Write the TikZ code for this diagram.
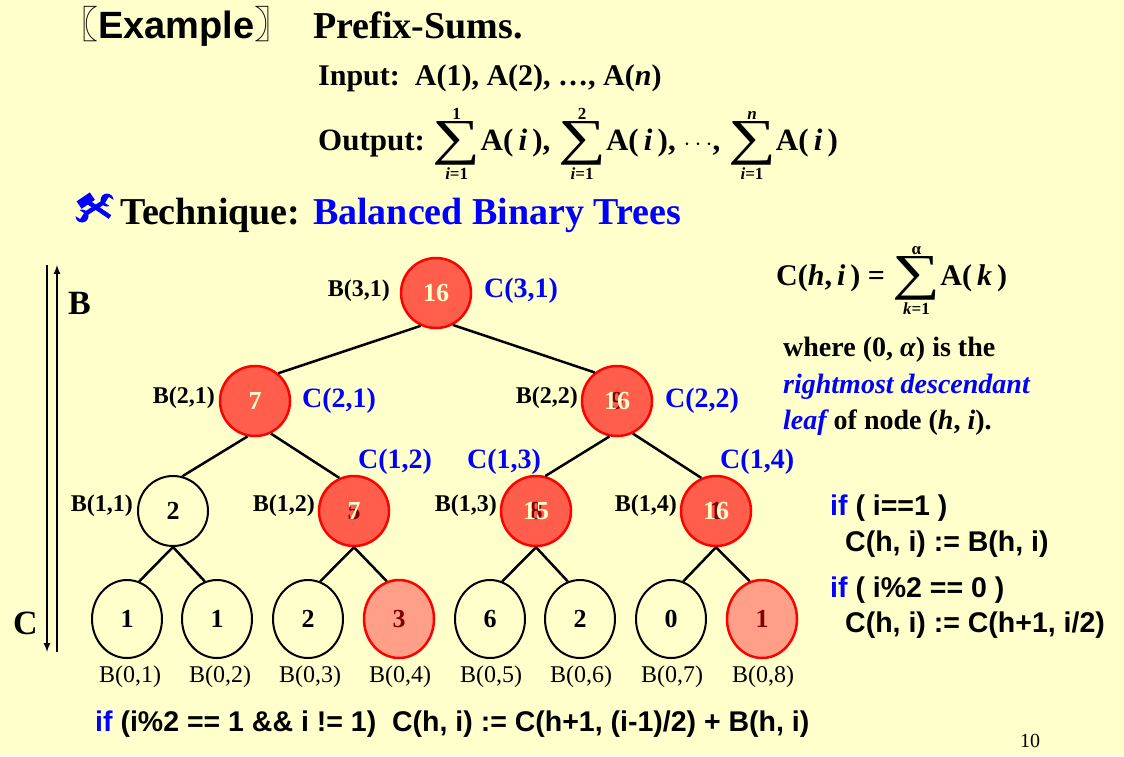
\documentclass[tikz,border=0pt]{standalone}
\usepackage{graphicx}
\usepackage{fontspec}
\setmainfont{Liberation Serif}
\setsansfont{Liberation Sans}
\newfontfamily\cjk{Noto Sans CJK SC}
\usetikzlibrary{shapes.geometric}
\definecolor{bg}{HTML}{FFFFCC}
\definecolor{nred}{HTML}{FF5E4D}
\definecolor{lred}{HTML}{FF9F88}
\definecolor{bred}{HTML}{FF0000}
\definecolor{dred}{HTML}{800000}
\definecolor{cream}{HTML}{FFFFCC}
\definecolor{tblue}{HTML}{0000FF}
\newcommand\fs[1]{\fontsize{#1}{#1}\selectfont}
\newcommand\ov[2]{\makebox[0pt][c]{\color{dred}#1}\makebox[0pt][c]{#2}}
\newcommand\bsum[2]{$\mathop{\vcenter{\hbox{\scalebox{1.4}[1.05]{\fs{48}\mdseries ∑}}}}\limits^{\hbox{\fs{17}\bfseries #1}}_{\hbox{\fs{17}\bfseries #2}}$}
\newcommand\Ai[1]{A(\,\textit{#1}\,)}
\tikzset{
  rnode/.style={circle, draw=bred, line width=2.5pt, fill=nred, minimum size=70pt, inner sep=0pt, font=\fs{26}\bfseries, text=cream},
  wnode/.style={circle, draw=black, line width=2pt, fill=bg, minimum size=70pt, inner sep=0pt, font=\fs{26}\bfseries, text=black},
  leafw/.style={ellipse, draw=black, line width=2pt, fill=bg, minimum width=70pt, minimum height=78pt, inner sep=0pt, font=\fs{26}\bfseries, text=black},
  leafr/.style={leafw, draw=bred, line width=2.5pt, fill=lred, text=dred},
  edg/.style={line width=2.5pt},
  blab/.style={font=\fs{24}\bfseries, inner sep=0pt},
  llab/.style={font=\fs{24}, inner sep=0pt},
  clab/.style={font=\fs{28}\bfseries, text=tblue, inner sep=0pt},
  txt/.style={inner sep=0pt, anchor=base west},
  code/.style={txt, font=\fs{28.5}\sffamily\bfseries},
}
\begin{document}
\begin{tikzpicture}[x=1pt,y=-1pt]
\fill[bg] (0,0) rectangle (1124,756);
\useasboundingbox (0,0) rectangle (1124,756);

% header
\node[txt, font=\fs{38}] (title) at (60,38) {{\cjk 〖}{\sffamily\bfseries Example}{\cjk 〗}};
\node[txt, font=\fs{38}\bfseries] (ps) at (313,38) {Prefix-Sums.};
\node[txt, font=\fs{30}\bfseries] (inp) at (318,85) {Input:\ \ A(1), A(2), \ldots, A(\textit{n})};
\node[txt, font=\fs{31}\bfseries] (outp) at (318,150) {Output:\ \bsum{1}{\textit{i}=1}\Ai{i}, \bsum{2}{\textit{i}=1}\Ai{i}, $\cdots$, \bsum{\textit{n}}{\textit{i}=1}\Ai{i}};
\node[txt, font=\fs{38}\bfseries] (tech) at (120,224) {Technique: {\color{tblue}Balanced Binary Trees}};

% tool icon (hammer and wrench)
\begin{scope}[tblue]
  \draw[line width=4.5pt] (82,216) -- (107,200);
  \fill (107,200) circle (6.5);
  \fill (82,216) circle (6.5);
  \fill[bg, rotate around={-33:(107,200)}] (107,196.5) rectangle (116,203.5);
  \fill[bg, rotate around={-33:(82,216)}] (73,212.5) rectangle (82,219.5);
  \draw[line width=4.5pt] (110,217) -- (88,202);
  \fill[rotate around={34:(86,201)}] (78,196) rectangle (94,205);
\end{scope}

% side arrows
\coordinate (ct) at (47,265);
\coordinate (cb) at (47,652);
\coordinate (bt) at (57,265);
\coordinate (bb) at (57,652);
\draw[line width=2pt, -latex] (ct) -- (cb);
\draw[line width=2pt, -latex] (bb) -- (bt);
\node[txt, font=\fs{34}\bfseries] (B) at (68,314) {B};
\node[txt, font=\fs{34}\bfseries] (C) at (13,634) {C};

% tree
\node[rnode] (n31) at (436,293) {16};
\node[rnode] (n21) at (255,401) {7};
\node[rnode] (n22) at (617,401) {\ov{9}{16}};
\node[wnode] (n11) at (173,511) {2};
\node[rnode] (n12) at (354,511) {\ov{5}{7}};
\node[rnode] (n13) at (536,511) {\ov{8}{15}};
\node[rnode] (n14) at (716,511) {\ov{1}{16}};
\node[leafw] (l1) at (127,619) {1};
\node[leafw] (l2) at (217,619) {1};
\node[leafw] (l3) at (308,619) {2};
\node[leafr] (l4) at (399,619) {3};
\node[leafw] (l5) at (490,619) {6};
\node[leafw] (l6) at (580,619) {2};
\node[leafw] (l7) at (671,619) {0};
\node[leafr] (l8) at (762,619) {1};

\draw[edg] (n31.-115) -- (n21.50);
\draw[edg] (n31.-62) -- (n22.128);
\draw[edg] (n21.-102) -- (n11.75);
\draw[edg] (n21.-64) -- (n12.114);
\draw[edg] (n22.-102) -- (n13.75);
\draw[edg] (n22.-64) -- (n14.114);
\foreach \p/\a/\b in {n11/l1/l2, n12/l3/l4, n13/l5/l6, n14/l7/l8}{
  \draw[edg] (\p.south) -- (\a.72);
  \draw[edg] (\p.south) -- (\b.108);
}

% labels
\node[blab, anchor=east] (b31) at (390,291) {B(3,1)};
\node[clab, anchor=west] (c31) at (484,291) {C(3,1)};
\node[blab, anchor=east] (b21) at (215,398) {B(2,1)};
\node[clab, anchor=west] (c21) at (302,401) {C(2,1)};
\node[blab, anchor=east] (b22) at (578,398) {B(2,2)};
\node[clab, anchor=west] (c22) at (665,401) {C(2,2)};
\node[blab, anchor=east] (b11) at (133,506) {B(1,1)};
\node[blab, anchor=east] (b12) at (315,506) {B(1,2)};
\node[blab, anchor=east] (b13) at (497,506) {B(1,3)};
\node[blab, anchor=east] (b14) at (677,506) {B(1,4)};
\node[clab, anchor=west] (c12) at (358,462) {C(1,2)};
\node[clab, anchor=west] (c13) at (467,462) {C(1,3)};
\node[clab, anchor=west] (c14) at (720,462) {C(1,4)};
\foreach \k/\x in {1/130,2/220,3/310,4/400,5/491,6/581,7/672,8/763}{
  \node[llab] (bl\k) at (\x,677) {B(0,\k)};
}

% right text
\node[txt, font=\fs{30}\bfseries] (cdef) at (776,285) {C(\textit{h},\,\textit{i}\,) = \bsum{α}{\textit{k}=1}\Ai{k}};
\node[txt, font=\fs{28}\bfseries] (w1) at (783,356) {where (0, \textit{α}) is the};
\node[txt, font=\fs{28}\bfseries\itshape, text=tblue] (w2) at (783,393) {rightmost descendant};
\node[txt, font=\fs{28}\bfseries] (w3) at (783,429) {{\color{tblue}\itshape leaf} of node (\textit{h}, \textit{i}).};

\node[code] (k1) at (830,515) {{\color{tblue}if} ( i==1 )};
\node[code] (k2) at (845,551) {C(h, i) := B(h, i)};
\node[code] (k3) at (830,597) {{\color{tblue}if} ( i\%2 == 0 )};
\node[code] (k4) at (845,632) {C(h, i) := C(h+1, i/2)};
\node[code] (k5) at (95,731) {{\color{tblue}if} (i\%2 == 1 \&\& i != 1)\ \ C(h, i) := C(h+1, (i-1)/2) + B(h, i)};
\node[txt, font=\fs{20}] (pg) at (1020,747) {10};
\end{tikzpicture}
\end{document}
